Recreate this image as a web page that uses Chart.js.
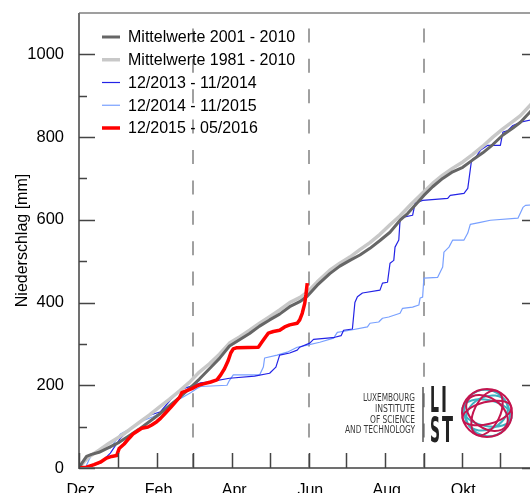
<!DOCTYPE html>
<html>
<head>
<meta charset="utf-8">
<script src="https://cdn.jsdelivr.net/npm/chart.js@4"></script>
<style>
  html, body { margin: 0; padding: 0; overflow: hidden; background: #fff; }
  #wrap { position: absolute; left: 0; top: 0; width: 560px; height: 520px; }
</style>
</head>
<body>
<div id="wrap"><canvas id="chart"></canvas></div>
<script>
// days counted from 1 Dec (leap year Dec 2015 - Nov 2016)
const monthDays = [0, 31, 62, 91, 122, 152, 183, 213, 244, 275, 305, 336, 366];
const labelDays = [0, 62, 122, 183, 244, 305];
const labelNames = ['Dez.', 'Feb.', 'Apr.', 'Jun.', 'Aug.', 'Okt.'];
const dashedDays = [91, 183, 275];
const yTicks = [0, 200, 400, 600, 800, 1000];
const yMinorTicks = [100, 300, 500, 700, 900];

const seriesNames = ['Mittelwerte 2001 - 2010', 'Mittelwerte 1981 - 2010', '12/2013 - 11/2014', '12/2014 - 11/2015', '12/2015 - 05/2016'];
const seriesColors = ['#666666', '#c8c8c8', '#2323e6', '#78a0ff', '#ff0000'];
const seriesWidths = [3, 3.5, 1.2, 1.2, 3.5];

// cumulative precipitation [mm], pairs of [day, value]
const mean2001 = [[0,0],[3,15],[6,28],[10,33],[16,38],[24,50],[32,62],[40,78],[48,94],[56,112],[64,130],[72,150],[80,170],[88,192],[96,215],[104,240],[112,265],[120,295],[128,310],[136,325],[144,343],[152,358],[160,372],[168,390],[176,402],[182,415],[190,442],[200,470],[208,488],[216,502],[224,515],[232,531],[240,550],[248,570],[256,599],[262,615],[268,635],[275,659],[282,680],[290,700],[298,716],[306,727],[314,745],[322,762],[330,782],[338,805],[346,822],[352,836],[360,862],[366,878]];
const mean1981 = [[0,0],[4,15],[8,27],[16,43],[24,60],[32,75],[40,92],[48,110],[56,128],[64,147],[72,166],[80,186],[88,207],[96,232],[104,252],[112,275],[120,302],[128,317],[136,333],[144,350],[152,366],[160,382],[168,400],[176,412],[182,425],[190,450],[200,478],[208,495],[216,510],[224,528],[232,545],[240,565],[248,588],[256,610],[264,635],[275,668],[282,688],[290,708],[298,725],[306,740],[314,758],[322,778],[330,800],[338,820],[346,838],[352,852],[360,878],[366,893]];
const year2014 = [[0,0],[6,0],[10,5],[17,12],[25,36],[33,72],[41,96],[49,112],[57,128],[65,136],[73,165],[81,190],[91,199],[97,206],[104,208],[120,217],[140,222],[152,229],[157,244],[160,273],[168,278],[174,285],[176,292],[184,302],[187,311],[198,314],[204,316],[209,320],[211,333],[218,336],[220,400],[222,414],[226,423],[240,430],[242,447],[246,449],[248,495],[251,502],[252,534],[255,551],[256,599],[258,606],[266,611],[268,640],[274,647],[294,652],[296,659],[307,664],[310,676],[313,744],[316,749],[320,768],[326,780],[336,780],[338,812],[342,816],[346,828],[352,836],[366,845]];
const year2015 = [[0,0],[5,0],[8,20],[10,31],[17,43],[25,48],[33,82],[38,90],[43,100],[49,112],[59,124],[67,136],[75,160],[81,168],[89,182],[94,192],[97,197],[118,200],[120,212],[123,225],[144,225],[147,244],[148,266],[158,273],[166,280],[174,292],[182,297],[192,304],[203,314],[206,328],[216,333],[230,341],[232,350],[239,353],[242,362],[247,365],[256,374],[258,386],[266,389],[271,394],[272,411],[274,413],[275,459],[286,461],[290,486],[291,522],[295,534],[298,551],[307,551],[310,568],[312,589],[320,594],[328,599],[350,604],[354,630],[356,635],[366,637]];
const year2016 = [[0,0],[6,2],[12,8],[17,14],[22,24],[26,28],[30,30],[32,47],[36,58],[40,72],[43,82],[47,90],[50,96],[55,99],[58,104],[62,112],[65,120],[69,133],[73,146],[77,160],[80,170],[82,182],[86,187],[90,192],[95,200],[100,204],[105,208],[110,213],[113,225],[116,240],[119,260],[121,278],[123,288],[126,291],[143,292],[146,305],[149,318],[151,326],[155,330],[160,333],[164,341],[168,346],[174,350],[176,358],[178,374],[180,398],[181,420],[182,447]];

const seriesData = [mean2001, mean1981, year2014, year2015, year2016];
const drawOrder = [1, 2, 3, 4, 0];

Chart.defaults.font.family = "'Liberation Sans', Arial, sans-serif";
Chart.defaults.font.size = 16;
Chart.defaults.color = '#000';

const decor = {
    id: 'decor',
    beforeDatasetsDraw(chart) {
        const { ctx, chartArea: a, scales: { x } } = chart;
        ctx.save();
        ctx.strokeStyle = '#a0a0a0';
        ctx.lineWidth = 2;
        ctx.setLineDash([14, 16.4]);
        dashedDays.forEach(d => {
            const px = Math.round(x.getPixelForValue(d));
            ctx.beginPath();
            ctx.moveTo(px, a.bottom);
            ctx.lineTo(px, a.top + 15);
            ctx.stroke();
        });
        ctx.restore();
    },
    afterDatasetsDraw(chart) {
        const { ctx, chartArea: a, scales: { x, y } } = chart;
        ctx.save();
        // frame
        ctx.strokeStyle = '#808080';
        ctx.lineWidth = 1.5;
        ctx.beginPath();
        ctx.moveTo(a.left, a.top);
        ctx.lineTo(a.right, a.top);
        ctx.lineTo(a.right, a.bottom);
        ctx.stroke();
        ctx.strokeStyle = '#707070';
        ctx.lineWidth = 2;
        ctx.beginPath();
        ctx.moveTo(a.left, a.top);
        ctx.lineTo(a.left, a.bottom);
        ctx.lineTo(a.right, a.bottom);
        ctx.stroke();

        // inward ticks
        ctx.strokeStyle = '#444';
        ctx.lineWidth = 1.5;
        ctx.beginPath();
        yTicks.forEach(v => {
            const py = Math.round(y.getPixelForValue(v)) + 0.5;
            ctx.moveTo(a.left, py); ctx.lineTo(a.left + 16, py);
            ctx.moveTo(a.right, py); ctx.lineTo(a.right - 16, py);
        });
        yMinorTicks.forEach(v => {
            const py = Math.round(y.getPixelForValue(v)) + 0.5;
            ctx.moveTo(a.left, py); ctx.lineTo(a.left + 8, py);
            ctx.moveTo(a.right, py); ctx.lineTo(a.right - 8, py);
        });
        monthDays.forEach(d => {
            const px = Math.round(x.getPixelForValue(d)) + 0.5;
            ctx.moveTo(px, a.bottom); ctx.lineTo(px, a.bottom - 15);
        });
        ctx.stroke();

        // y title
        ctx.fillStyle = '#000';
        ctx.font = "16px 'Liberation Sans', Arial, sans-serif";
        ctx.translate(27, (a.top + a.bottom) / 2);
        ctx.rotate(-Math.PI / 2);
        ctx.textAlign = 'center';
        ctx.textBaseline = 'alphabetic';
        ctx.fillText('Niederschlag [mm]', 0, 0);
        ctx.restore();

        // legend
        ctx.save();
        ctx.font = "16px 'Liberation Sans', Arial, sans-serif";
        ctx.textBaseline = 'middle';
        ctx.textAlign = 'left';
        seriesNames.forEach((name, i) => {
            const ly = 37 + i * 22.75;
            ctx.strokeStyle = seriesColors[i];
            ctx.lineWidth = seriesWidths[i];
            ctx.beginPath();
            ctx.moveTo(102, ly);
            ctx.lineTo(120, ly);
            ctx.stroke();
            ctx.fillStyle = '#000';
            ctx.fillText(name, 128, ly + 1);
        });
        ctx.restore();

        // logo
        ctx.save();
        ctx.fillStyle = '#3a3a3a';
        ctx.font = "10px 'DejaVu Sans Condensed', 'DejaVu Sans', sans-serif";
        ctx.textAlign = 'right';
        ctx.textBaseline = 'middle';
        [['LUXEMBOURG', 398.5, 52], ['INSTITUTE', 409.5, 40], ['OF SCIENCE', 420.5, 45], ['AND TECHNOLOGY', 430.5, 70]].forEach(t => {
            ctx.fillText(t[0], 415, t[1], t[2]);
        });
        ctx.strokeStyle = '#555';
        ctx.lineWidth = 1.5;
        ctx.beginPath();
        ctx.moveTo(423, 387); ctx.lineTo(423, 442);
        ctx.stroke();
        ctx.fillStyle = '#222';
        ctx.textAlign = 'left';
        ctx.textBaseline = 'alphabetic';
        ctx.font = "bold 35px 'DejaVu Sans Condensed', 'DejaVu Sans', sans-serif";
        ctx.fillText('L', 430, 412, 9);
        ctx.fillText('I', 441, 412, 6);
        ctx.fillText('S', 430, 442, 10);
        ctx.fillText('T', 442, 442, 11);
        const cx = 487, cy = 413;
        const rings = [
            ['#3fb0c0', 25, 13, 0.2], ['#3fb0c0', 22, 16, -0.5], ['#3fb0c0', 24, 22, 0.9],
            ['#c4154f', 25, 24, 0], ['#c4154f', 25, 11, -0.25], ['#c4154f', 13, 24, 0.45], ['#c4154f', 23, 15, 0.6]
        ];
        ctx.lineWidth = 2;
        rings.forEach(r => {
            ctx.strokeStyle = r[0];
            ctx.beginPath();
            ctx.ellipse(cx, cy, r[1], r[2], r[3], 0, Math.PI * 2);
            ctx.stroke();
        });
        ctx.restore();
    }
};

new Chart(document.getElementById('chart'), {
    type: 'line',
    data: {
        datasets: seriesData.map((pts, i) => ({
            label: seriesNames[i],
            data: pts.map(p => ({ x: p[0], y: p[1] })),
            borderColor: seriesColors[i],
            borderWidth: seriesWidths[i],
            pointRadius: 0,
            tension: 0,
            fill: false,
            borderJoinStyle: 'round',
            order: drawOrder[i]
        }))
    },
    options: {
        responsive: true,
        maintainAspectRatio: false,
        animation: false,
        layout: { padding: { left: 0, top: 13, right: 22, bottom: 0 } },
        plugins: { legend: { display: false }, tooltip: { enabled: false } },
        scales: {
            x: {
                type: 'linear',
                min: 0,
                max: 366,
                grid: { display: false },
                border: { display: false },
                afterBuildTicks: scale => { scale.ticks = labelDays.map(v => ({ value: v })); },
                afterFit: scale => {
                    scale.height = 52;
                    scale.paddingLeft = 0;
                    scale.paddingRight = 0;
                },
                ticks: {
                    padding: 5,
                    labelOffset: 4,
                    maxRotation: 0,
                    autoSkip: false,
                    callback: v => labelNames[labelDays.indexOf(v)]
                }
            },
            y: {
                min: 0,
                max: 1100,
                grid: { display: false },
                border: { display: false },
                afterBuildTicks: scale => { scale.ticks = yTicks.map(v => ({ value: v })); },
                afterFit: scale => {
                    scale.width = 79;
                    scale.paddingTop = 0;
                    scale.paddingBottom = 0;
                },
                ticks: { padding: 7, font: { size: 16.5 }, callback: v => String(v) }
            }
        }
    },
    plugins: [decor]
});
</script>
</body>
</html>
